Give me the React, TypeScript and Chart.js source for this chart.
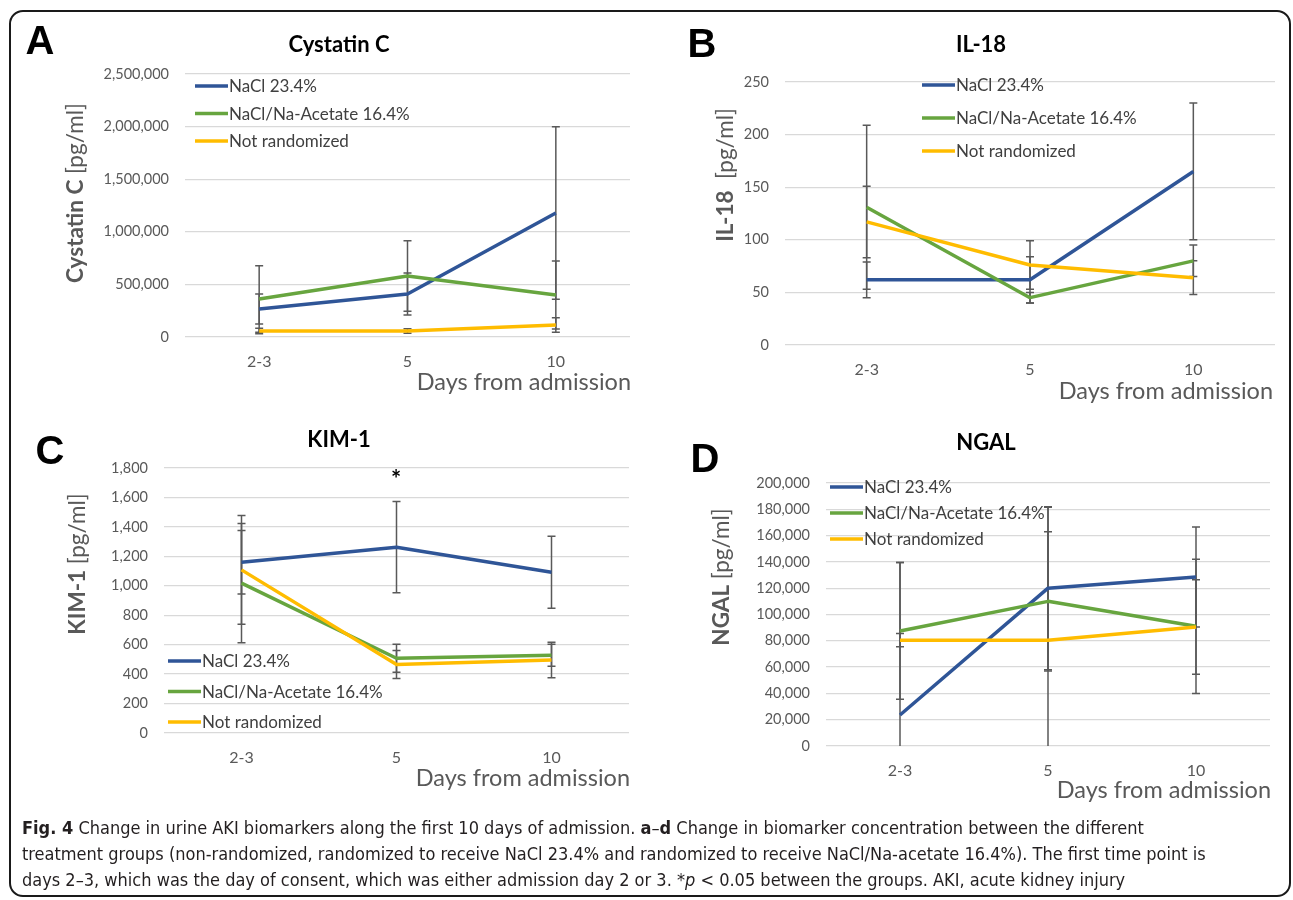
import React, { useEffect, useRef } from 'react';
import { Chart, registerables } from 'chart.js';

Chart.register(...registerables);

// ---------- data ----------
const categories = ['2-3', '5', '10'];
const seriesNames = ['NaCl 23.4%', 'NaCl/Na-Acetate 16.4%', 'Not randomized'];
const seriesColors = ['#2F5597', '#67A53F', '#FFBC00'];

// Cystatin C [pg/ml]
const cystatinNaCl = [266000, 409000, 1179000];
const cystatinNaClErr = [143000, 200000, 820000];
const cystatinAcetate = [361000, 580000, 399000];
const cystatinAcetateErr = [317000, 335000, 323000];
const cystatinNotRand = [57000, 57000, 114000];
const cystatinNotRandErr = [26000, 22000, 69000];
const cystatinTicks = [0, 500000, 1000000, 1500000, 2000000, 2500000];

// IL-18 [pg/ml]
const il18NaCl = [62, 62, 165];
const il18NaClErr = [17, 22, 65];
const il18Acetate = [131, 45, 80];
const il18AcetateErr = [78, 5, 15];
const il18NotRand = [117, 76, 64];
const il18NotRandErr = [34, 23, 16];
const il18Ticks = [0, 50, 100, 150, 200, 250];

// KIM-1 [pg/ml]
const kim1NaCl = [1160, 1262, 1092];
const kim1NaClErr = [215, 310, 245];
const kim1Acetate = [1018, 508, 528];
const kim1AcetateErr = [405, 95, 75];
const kim1NotRand = [1108, 465, 496];
const kim1NotRandErr = [370, 95, 120];
const kim1Ticks = [0, 200, 400, 600, 800, 1000, 1200, 1400, 1600, 1800];

// NGAL [pg/ml]
const ngalNaCl = [23600, 120000, 128500];
const ngalNaClErr = [116000, 62000, 38000];
const ngalAcetate = [87500, 110000, 91000];
const ngalAcetateErr = [52000, 53000, 51000];
const ngalNotRand = [80500, 80500, 90500];
const ngalNotRandErr = [5000, 101000, 36000];
const ngalTicks = [0, 20000, 40000, 60000, 80000, 100000, 120000, 140000, 160000, 180000, 200000];

// ---------- layout ----------
const PAGE_W = 1293;
const PAGE_H = 900;
const FONT = 'Lato, "Open Sans", sans-serif';

type Panel = {
  letter: string;
  title: string;
  yBold: string;
  yRest: string;
  values: number[][];
  errors: number[][];
  ticks: number[];
  area: { left: number; right: number; top: number; bottom: number };
  letterAt: [number, number];
  titleAt: [number, number];
  yTitleAt: [number, number];
  xTitleAt: [number, number];
  legend: { x: number; y: number; dy: number };
  star?: [number, number];
};

const panels: Panel[] = [
  {
    letter: 'A', title: 'Cystatin C', yBold: 'Cystatin C', yRest: ' [pg/ml]',
    values: [cystatinNaCl, cystatinAcetate, cystatinNotRand],
    errors: [cystatinNaClErr, cystatinAcetateErr, cystatinNotRandErr],
    ticks: cystatinTicks,
    area: { left: 185, right: 630, top: 74, bottom: 337 },
    letterAt: [40, 43], titleAt: [339, 45], yTitleAt: [76, 193], xTitleAt: [631, 382],
    legend: { x: 195, y: 86, dy: 27.5 },
  },
  {
    letter: 'B', title: 'IL-18', yBold: 'IL-18', yRest: '  [pg/ml]',
    values: [il18NaCl, il18Acetate, il18NotRand],
    errors: [il18NaClErr, il18AcetateErr, il18NotRandErr],
    ticks: il18Ticks,
    area: { left: 785, right: 1275, top: 82, bottom: 345 },
    letterAt: [702, 46], titleAt: [981, 45], yTitleAt: [726, 175], xTitleAt: [1273, 391],
    legend: { x: 922, y: 85, dy: 33 },
  },
  {
    letter: 'C', title: 'KIM-1', yBold: 'KIM-1', yRest: ' [pg/ml]',
    values: [kim1NaCl, kim1Acetate, kim1NotRand],
    errors: [kim1NaClErr, kim1AcetateErr, kim1NotRandErr],
    ticks: kim1Ticks,
    area: { left: 164, right: 629, top: 468, bottom: 733 },
    letterAt: [50, 453], titleAt: [339, 440], yTitleAt: [78, 564], xTitleAt: [630, 778],
    legend: { x: 168, y: 661, dy: 30.5 },
    star: [396, 480],
  },
  {
    letter: 'D', title: 'NGAL', yBold: 'NGAL', yRest: ' [pg/ml]',
    values: [ngalNaCl, ngalAcetate, ngalNotRand],
    errors: [ngalNaClErr, ngalAcetateErr, ngalNotRandErr],
    ticks: ngalTicks,
    area: { left: 826, right: 1270, top: 483, bottom: 746 },
    letterAt: [705, 461], titleAt: [986, 443], yTitleAt: [722, 577], xTitleAt: [1271, 790],
    legend: { x: 830, y: 487, dy: 26 },
  },
];

function makeDecorPlugin(p: Panel) {
  return {
    id: 'decor' + p.letter,
    beforeDatasetsDraw(chart: any) {
      const { ctx, chartArea } = chart;
      const x = chart.scales.x;
      const y = chart.scales.y;
      ctx.save();
      ctx.strokeStyle = '#595959';
      ctx.lineWidth = 1.5;
      p.values.forEach((vals, d) => {
        vals.forEach((v, i) => {
          const e = p.errors[d][i];
          const xp = x.getPixelForValue(i);
          const top = y.getPixelForValue(v + e);
          const lowVal = v - e;
          const clipped = lowVal < 0;
          const bot = clipped ? chartArea.bottom : y.getPixelForValue(lowVal);
          ctx.beginPath();
          ctx.moveTo(xp, top);
          ctx.lineTo(xp, bot);
          ctx.moveTo(xp - 4, top);
          ctx.lineTo(xp + 4, top);
          if (!clipped) {
            ctx.moveTo(xp - 4, bot);
            ctx.lineTo(xp + 4, bot);
          }
          ctx.stroke();
        });
      });
      ctx.restore();
    },
    afterDraw(chart: any) {
      const { ctx } = chart;
      ctx.save();
      // panel letter
      ctx.fillStyle = '#000';
      ctx.textAlign = 'center';
      ctx.textBaseline = 'middle';
      ctx.font = 'bold 40px "Liberation Sans", Arial, sans-serif';
      ctx.fillText(p.letter, p.letterAt[0], p.letterAt[1]);
      // title
      ctx.font = 'bold 22px ' + FONT;
      ctx.fillText(p.title, p.titleAt[0], p.titleAt[1]);
      // star
      if (p.star) {
        ctx.font = 'bold 24px ' + FONT;
        ctx.fillText('*', p.star[0], p.star[1]);
      }
      // y title
      ctx.fillStyle = '#595959';
      ctx.save();
      ctx.translate(p.yTitleAt[0], p.yTitleAt[1]);
      ctx.rotate(-Math.PI / 2);
      ctx.textAlign = 'left';
      const fb = 'bold 22.5px ' + FONT;
      const fr = '22.5px ' + FONT;
      ctx.font = fb;
      const wb = ctx.measureText(p.yBold).width;
      ctx.font = fr;
      const wr = ctx.measureText(p.yRest).width;
      const start = -(wb + wr) / 2;
      ctx.font = fb;
      ctx.fillText(p.yBold, start, 0);
      ctx.font = fr;
      ctx.fillText(p.yRest, start + wb, 0);
      ctx.restore();
      // x title
      ctx.textAlign = 'right';
      ctx.font = '23.5px ' + FONT;
      ctx.fillText('Days from admission', p.xTitleAt[0], p.xTitleAt[1]);
      // legend
      ctx.textAlign = 'left';
      ctx.font = '17px ' + FONT;
      seriesNames.forEach((name, i) => {
        const ly = p.legend.y + i * p.legend.dy;
        ctx.strokeStyle = seriesColors[i];
        ctx.lineWidth = 3.5;
        ctx.beginPath();
        ctx.moveTo(p.legend.x, ly);
        ctx.lineTo(p.legend.x + 33, ly);
        ctx.stroke();
        ctx.fillStyle = '#404040';
        ctx.fillText(name, p.legend.x + 34, ly + 1);
      });
      ctx.restore();
    },
  };
}

function PanelChart({ p }: { p: Panel }) {
  const ref = useRef<HTMLCanvasElement>(null);
  useEffect(() => {
    if (!ref.current) return;
    const maxTick = p.ticks[p.ticks.length - 1];
    const step = p.ticks[1] - p.ticks[0];
    const chart = new Chart(ref.current, {
      type: 'line',
      data: {
        labels: categories,
        datasets: p.values.map((vals, d) => ({
          label: seriesNames[d],
          data: vals,
          borderColor: seriesColors[d],
          backgroundColor: seriesColors[d],
          borderWidth: 3.5,
          pointRadius: 0,
          tension: 0,
          borderJoinStyle: 'round' as const,
          order: 3 - d,
          clip: false as any,
        })),
      },
      options: {
        responsive: false,
        animation: false,
        devicePixelRatio: 1,
        events: [],
        layout: {
          padding: { top: p.area.top, left: 0, right: PAGE_W - p.area.right, bottom: 0 },
        },
        plugins: {
          legend: { display: false },
          title: { display: false },
          tooltip: { enabled: false },
        },
        scales: {
          x: {
            type: 'category',
            offset: true,
            grid: { display: false, drawTicks: false },
            border: { display: false },
            ticks: {
              padding: 15,
              color: '#595959',
              font: { family: FONT, size: 16 },
              maxRotation: 0,
            },
            afterFit: (s: any) => { s.height = PAGE_H - p.area.bottom; },
          },
          y: {
            min: 0,
            max: maxTick,
            grid: { color: '#D9D9D9', lineWidth: 1.3, drawTicks: false },
            border: { display: false },
            ticks: {
              stepSize: step,
              padding: 16,
              color: '#595959',
              font: { family: FONT, size: 14.5 },
              callback: (v: any) => Number(v).toLocaleString('en-US'),
            },
            afterFit: (s: any) => { s.width = p.area.left; },
          },
        },
      },
      plugins: [makeDecorPlugin(p)],
    });
    return () => chart.destroy();
  }, [p]);
  return (
    <canvas
      ref={ref}
      width={PAGE_W}
      height={PAGE_H}
      style={{ position: 'absolute', left: 0, top: 0, width: PAGE_W, height: PAGE_H }}
    />
  );
}

export default function App() {
  return (
    <div style={{ position: 'relative', width: PAGE_W, height: PAGE_H, background: '#fff', overflow: 'hidden' }}>
      <style>{'body{margin:0;background:#fff;}'}</style>
      <div
        style={{
          position: 'absolute', left: 9, top: 10, width: 1282, height: 887,
          boxSizing: 'border-box', border: '2px solid #1a1a1a', borderRadius: 14,
        }}
      />
      {panels.map((p) => (
        <PanelChart key={p.letter} p={p} />
      ))}
      <div
        style={{
          position: 'absolute', left: 22, top: 815, width: 1265,
          fontFamily: '"Liberation Sans Narrow", "DejaVu Sans Condensed", "Liberation Sans", sans-serif',
          fontStretch: 'condensed', fontSize: 18, lineHeight: '26px', color: '#231F20', whiteSpace: 'nowrap',
        }}
      >
        <b>Fig. 4</b> Change in urine AKI biomarkers along the first 10 days of admission. <b>a</b>–<b>d</b> Change in biomarker concentration between the different
        <br />
        treatment groups (non-randomized, randomized to receive NaCl 23.4% and randomized to receive NaCl/Na-acetate 16.4%). The first time point is
        <br />
        days 2–3, which was the day of consent, which was either admission day 2 or 3. *<i>p</i> &lt; 0.05 between the groups. AKI, acute kidney injury
      </div>
    </div>
  );
}
